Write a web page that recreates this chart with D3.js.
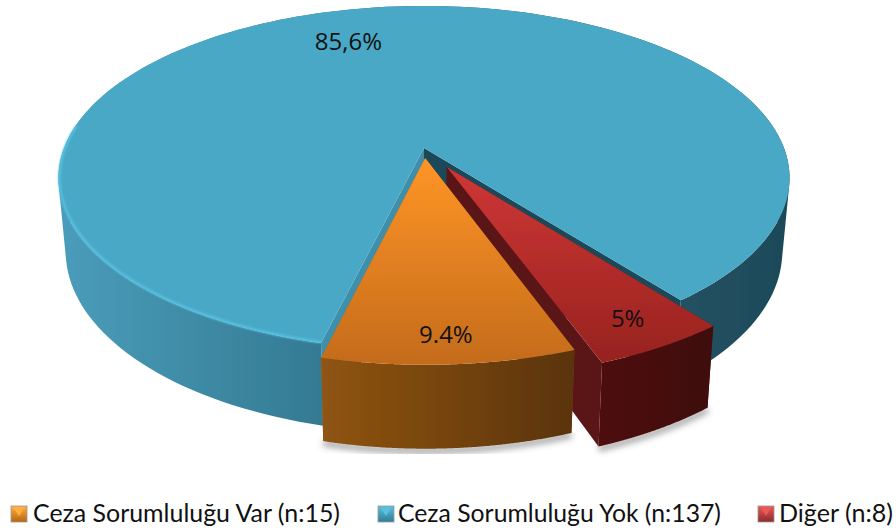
<!DOCTYPE html>
<html><head><meta charset="utf-8">
<script src="https://cdn.jsdelivr.net/npm/d3@7/dist/d3.min.js"></script>
<style>html,body{margin:0;padding:0;background:#fff}svg{display:block}</style>
</head><body><svg id="c" width="896" height="531"></svg>
<script>
const categories = ["Ceza Sorumluluğu Var (n:15)", "Ceza Sorumluluğu Yok (n:137)", "Diğer (n:8)"];
const counts = [15, 137, 8];
const valueLabels = ["9.4%", "85,6%", "5%"];

// styling / layout
const explode = [0.06, 0, 0.128];
const topStops = [["#ff9526", "#c56c1b"], ["#49a8c5", "#49a8c5"], ["#cf3636", "#98231f"]];
const wallStops = [
  [[0, "#8f5412"], [1, "#5a330c"]],
  [[0, "#4a9dbb"], [0.36, "#347a92"], [0.62, "#285f73"], [1, "#1e4959"]],
  [[0, "#4e1110"], [1, "#3f0f0e"]]
];
const wallX = [[324, 575], [58, 790], [596, 711]];
const sideFill = [["#7a4510", "#a05f15"], ["#3d8fab", "#1d4a5a"], ["#5a1414", "#5a1414"]];
const legendX = [[11, 33], [378, 398], [758, 779]];
const legendTextLength = [307, 323, 114];
const swatchLight = ["#ffb040", "#5cc0dc", "#e85a5a"];
const swatchDark = ["#b9650f", "#2f7d99", "#8e2a2a"];
const labelR = [0.875, 0.76, 0.863];
const labelShift = [0, -6, 0];

const svg = d3.select("#c");
const defs = svg.append("defs");
const blur = (id, s) => defs.append("filter").attr("id", id)
  .attr("x", "-10%").attr("y", "-10%").attr("width", "120%").attr("height", "130%")
  .append("feGaussianBlur").attr("stdDeviation", s);
blur("soft", 0.55); blur("shadow", 3); blur("glow", 0.9);

const rad = d => d * Math.PI / 180;
const pie = d3.pie().sort(null).startAngle(rad(160)).endAngle(rad(520));
const arcs = pie(counts);

// perspective projection of the unit disk
const CX = 424, AY = 148, C = 360, A = 166.8, K = 0.174;
const project = (u, v) => { const w = 1 - K * v; return [CX + C * u / w, AY + A * v / w]; };
const lower = ([x, y]) => [CX + (x - CX) * 0.98, y + 72 + 0.055 * (y - AY)];
const disk = (a, r, i) => {
  const b = (arcs[i].startAngle + arcs[i].endAngle) / 2;
  const e = explode[i];
  return project(r * Math.sin(a) + e * Math.sin(b), -r * Math.cos(a) - e * Math.cos(b));
};
const line = d3.line();
const rim = (i, a0, a1) => d3.range(0, 181).map(t => disk(a0 + (a1 - a0) * t / 180, 1, i));
const poly = pts => line(pts) + "Z";
// wall = union of same-orientation quads between upper and lower rim
const wallPath = top => d3.range(top.length - 1).map(k => {
  const q = [top[k], top[k + 1], lower(top[k + 1]), lower(top[k])];
  return poly(d3.polygonArea(q) < 0 ? q.reverse() : q);
}).join("");

arcs.forEach((d, i) => {
  const g = defs.append("linearGradient").attr("id", "top" + i).attr("gradientUnits", "userSpaceOnUse")
    .attr("x1", 0).attr("x2", 0).attr("y1", disk(0, 0, i)[1]).attr("y2", 360);
  g.append("stop").attr("offset", 0).attr("stop-color", topStops[i][0]);
  g.append("stop").attr("offset", 1).attr("stop-color", topStops[i][1]);
  const w = defs.append("linearGradient").attr("id", "wall" + i).attr("gradientUnits", "userSpaceOnUse")
    .attr("x1", wallX[i][0]).attr("x2", wallX[i][1]).attr("y1", 0).attr("y2", 0);
  wallStops[i].forEach(s => w.append("stop").attr("offset", s[0]).attr("stop-color", s[1]));
});

const chart = svg.append("g").attr("filter", "url(#soft)");

// soft ground shadow below the two pulled-out slices
[0, 2].forEach(i => {
  const bottom = rim(i, arcs[i].startAngle, arcs[i].endAngle).map(lower);
  chart.append("path").attr("d", line(bottom)).attr("fill", "none")
    .attr("stroke", "#555").attr("stroke-width", 6).attr("stroke-opacity", 0.55)
    .attr("transform", "translate(0,2)").attr("filter", "url(#shadow)");
});

const drawSlice = i => {
  const d = arcs[i], a0 = d.startAngle, a1 = d.endAngle;
  const apex = disk(0, 0, i), pA = disk(a0, 1, i), pB = disk(a1, 1, i);
  const top = rim(i, a0, a1);
  const g = chart.append("g");
  // cut faces
  g.append("path").attr("d", poly([apex, pA, lower(pA), lower(apex)])).attr("fill", sideFill[i][0]);
  g.append("path").attr("d", poly([apex, pB, lower(pB), lower(apex)])).attr("fill", sideFill[i][1]);
  // outer wall
  g.append("path").attr("d", wallPath(top)).attr("fill", `url(#wall${i})`);
  // top
  g.append("path").attr("d", poly([apex].concat(top))).attr("fill", `url(#top${i})`);
  return g;
};

drawSlice(1);
// bright bevel along the front edge of the big slice
chart.append("path")
  .attr("d", line(d3.range(0, 61).map(t => disk(arcs[1].startAngle + rad(84) * t / 60, 0.997, 1))))
  .attr("fill", "none").attr("stroke", "#58c4e4").attr("stroke-width", 2.2).attr("filter", "url(#glow)");
drawSlice(2);
drawSlice(0);

// value labels
svg.append("g").selectAll("text").data(arcs).join("text")
  .attr("transform", (d, i) => {
    const [x, y] = disk((d.startAngle + d.endAngle) / 2 + rad(labelShift[i]), labelR[i], i);
    return `translate(${x},${y})`;
  })
  .attr("text-anchor", "middle").attr("dy", "0.36em")
  .attr("font-family", "'Open Sans', 'Noto Sans', sans-serif").attr("font-size", 24)
  .attr("fill", "#111").text((d, i) => valueLabels[i]);

// legend
const lg = svg.append("g").selectAll("g").data(categories).join("g");
lg.each(function (name, i) {
  const g = d3.select(this);
  const [sx, tx] = legendX[i];
  const id = "sw" + i;
  const gr = defs.append("linearGradient").attr("id", id).attr("x1", 0).attr("x2", 0).attr("y1", 0).attr("y2", 1);
  gr.append("stop").attr("offset", 0).attr("stop-color", swatchLight[i]);
  gr.append("stop").attr("offset", 1).attr("stop-color", swatchDark[i]);
  g.append("rect").attr("x", sx).attr("y", 506).attr("width", 16).attr("height", 16)
    .attr("fill", `url(#${id})`).attr("stroke", "#999").attr("stroke-width", 0.8);
  g.append("path").attr("d", poly([[sx + 2, 507], [sx + 14, 507], [sx + 8, 516]]))
    .attr("fill", swatchLight[i]);
  g.append("text").attr("x", tx).attr("y", 522)
    .attr("font-family", "Lato, 'Open Sans', sans-serif").attr("font-size", 25).attr("fill", "#111")
    .attr("textLength", legendTextLength[i]).attr("lengthAdjust", "spacingAndGlyphs")
    .text(name);
});
</script></body></html>
